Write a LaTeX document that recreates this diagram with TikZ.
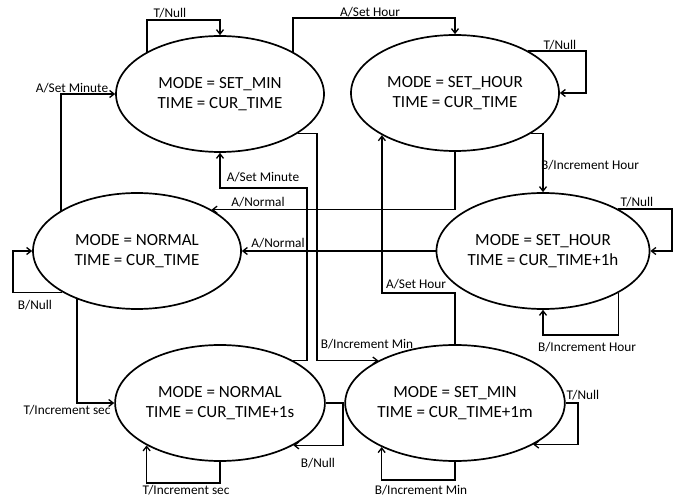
\documentclass[tikz,border=0pt]{standalone}
\usepackage{fontspec}
\setmainfont{Carlito}
\usetikzlibrary{shapes.geometric,arrows.meta}
\begin{document}
\begin{tikzpicture}[x=1pt,y=-1pt,
  state/.style={ellipse,draw,line width=1.7pt,minimum width=208pt,minimum height=116pt,inner sep=0pt,
    align=center,font=\fontsize{17}{20.5}\selectfont,fill=white},
  conn/.style={line width=1.6pt,-{Straight Barb[length=4.5pt,width=7pt,line width=1.3pt]}},
  lbl/.style={font=\fontsize{13.3}{14}\selectfont,inner sep=0pt}]
\useasboundingbox (0,0) rectangle (678,497);
\node[state] (n1) at (220,94) {MODE = SET\_MIN\\TIME = CUR\_TIME};
\node[state] (n2) at (455,93) {MODE = SET\_HOUR\\TIME = CUR\_TIME};
\node[state] (n3) at (137,251) {MODE = NORMAL\\TIME = CUR\_TIME};
\node[state] (n4) at (543,251) {MODE = SET\_HOUR\\TIME = CUR\_TIME+1h};
\node[state] (n5) at (220,403) {MODE = NORMAL\\TIME = CUR\_TIME+1s};
\node[state] (n6) at (455,403) {MODE = SET\_MIN\\TIME = CUR\_TIME+1m};
% connectors
\draw[conn] (n1.150) -- (n1.150 |- 0,20) -| (n1.north);
\draw[conn] (n1.30) -- (n1.30 |- 0,18) -| (n2.north);
\draw[conn] (n2.30) -- (n2.30 -| 586,0) |- (n2.east);
\draw[conn] (n2.-28) -| (n4.north);
\draw[conn] (n4.29) -- (n4.29 -| 672,0) |- (n4.east);
\draw[conn] (n4.-29) -- (n4.-29 |- 0,335) -| (n4.south);
\draw[conn] (n2.south) |- (n3.29);
\draw[conn] (n4.west) -- (n3.east);
\draw[conn] (n3.152) |- (n1.west);
\draw[conn] (n5.30) -- (n5.30 -| 307,0) -- (307,188) -| (n1.south);
\draw[conn] (n1.-27) -- (n1.-27 -| 317,0) |- (n6.151);
\draw[conn] (n6.north) -- (n6.north |- 0,293) -| (n2.210);
\draw[conn] (n3.209) -- (n3.209 -| 13,0) |- (n3.west);
\draw[conn] (n3.219) |- (n5.west);
\draw[conn] (n5.south) -- (n5.south |- 0,483) -| (n5.210);
\draw[conn] (n5.east) -- (n5.east -| 343,0) |- (n5.-30);
\draw[conn] (n6.east) -- (n6.east -| 578,0) |- (n6.-28);
\draw[conn] (n6.south) -- (n6.south |- 0,480) -| (n6.211);
% labels
\node[lbl] (l1) at (170,13) {T/Null};
\node[lbl] (l2) at (370,12) {A/Set Hour};
\node[lbl] (l3) at (560,45) {T/Null};
\node[lbl] (l4) at (590,165) {B/Increment Hour};
\node[lbl] (l5) at (637,202) {T/Null};
\node[lbl] (l6) at (587,347) {B/Increment Hour};
\node[lbl] (l7) at (258,202) {A/Normal};
\node[lbl] (l8) at (278,243) {A/Normal};
\node[lbl] (l9) at (72,88) {A/Set Minute};
\node[lbl] (l10) at (263,177) {A/Set Minute};
\node[lbl] (l11) at (367,344) {B/Increment Min};
\node[lbl] (l12) at (416,284) {A/Set Hour};
\node[lbl] (l13) at (35,305) {B/Null};
\node[lbl] (l14) at (67,410) {T/Increment sec};
\node[lbl] (l15) at (186,490) {T/Increment sec};
\node[lbl] (l16) at (318,463) {B/Null};
\node[lbl] (l17) at (583,395) {T/Null};
\node[lbl] (l18) at (421,490) {B/Increment Min};
\end{tikzpicture}
\end{document}
